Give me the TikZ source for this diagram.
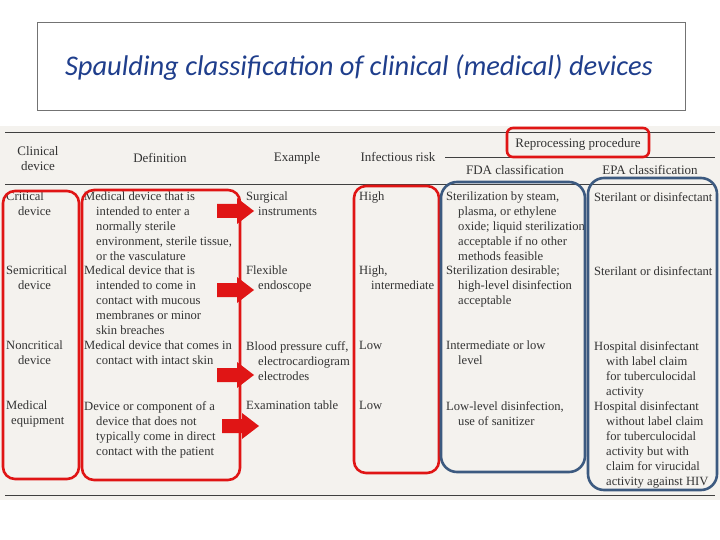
\documentclass[tikz,border=0pt]{standalone}
\usepackage{fontspec}
\setmainfont{Liberation Serif}
\newfontfamily\titlefont{Carlito}
\definecolor{titleblue}{HTML}{1F3E8C}
\definecolor{boxblue}{HTML}{3C5A80}
\definecolor{redb}{HTML}{E01515}
\definecolor{paper}{HTML}{F4F2EE}
\begin{document}
\begin{tikzpicture}[x=1pt,y=-1pt,
  txt/.style={anchor=north west,align=left,inner sep=0pt,font=\fontsize{12.6}{15}\selectfont,text=black!80},
  hd/.style={align=center,inner sep=0pt,font=\fontsize{13}{15}\selectfont,text=black!80},
  redbox/.style={draw=redb,line width=2.6pt,rounded corners=12pt},
  bluebox/.style={draw=boxblue,line width=2.6pt,rounded corners=16pt},
  arr/.style={fill=redb,draw=none},
  rule/.style={line width=0.9pt,black!75}]
\useasboundingbox (0,0) rectangle (720,540);
\fill[white] (0,0) rectangle (720,540);
\fill[paper] (0,126) rectangle (720,500);
\node[draw=black!55,line width=0.6pt,minimum width=648pt,minimum height=88pt,inner sep=0pt] (title) at (361,66) {};
\node[font=\titlefont\itshape\fontsize{28.5}{32}\selectfont,text=titleblue] (tt) at (359,68) {Spaulding classification of clinical (medical) devices};
% rules
\coordinate (r1a) at (5,132); \coordinate (r1b) at (715,132);
\draw[rule] (r1a) -- (r1b);
\coordinate (r2a) at (445,157); \coordinate (r2b) at (715,157);
\draw[rule] (r2a) -- (r2b);
\coordinate (r3a) at (5,184); \coordinate (r3b) at (715,184);
\draw[rule] (r3a) -- (r3b);
\coordinate (r4a) at (5,495); \coordinate (r4b) at (715,495);
\draw[rule] (r4a) -- (r4b);
% headers
\node[hd] (h1) at (38,159) {Clinical\\device};
\node[hd] (h2) at (160,158) {Definition};
\node[hd] (h3) at (297,158) {Example};
\node[hd] (h4) at (398,157) {Infectious risk};
\node[hd] (h5) at (578,144) {Reprocessing procedure};
\node[hd] (h6) at (515,170) {FDA classification};
\node[hd] (h7) at (650,170) {EPA classification};
% column 1
\node[txt] (c11) at (6,192) {Critical\\\hspace*{12pt}device};
\node[txt] (c12) at (6,266) {Semicritical\\\hspace*{12pt}device};
\node[txt] (c13) at (6,341) {Noncritical\\\hspace*{12pt}device};
\node[txt] (c14) at (6,401) {Medical\\\hspace*{5pt}equipment};
% column 2
\node[txt] (c21) at (84,192) {Medical device that is\\\hspace*{12pt}intended to enter a\\\hspace*{12pt}normally sterile\\\hspace*{12pt}environment, sterile tissue,\\\hspace*{12pt}or the vasculature};
\node[txt] (c22) at (84,266) {Medical device that is\\\hspace*{12pt}intended to come in\\\hspace*{12pt}contact with mucous\\\hspace*{12pt}membranes or minor\\\hspace*{12pt}skin breaches};
\node[txt] (c23) at (84,341) {Medical device that comes in\\\hspace*{12pt}contact with intact skin};
\node[txt] (c24) at (84,401) {Device or component of a\\\hspace*{12pt}device that does not\\\hspace*{12pt}typically come in direct\\\hspace*{12pt}contact with the patient};
% column 3
\node[txt] (c31) at (246,192) {Surgical\\\hspace*{12pt}instruments};
\node[txt] (c32) at (246,266) {Flexible\\\hspace*{12pt}endoscope};
\node[txt] (c33) at (246,341) {Blood pressure cuff,\\\hspace*{12pt}electrocardiogram\\\hspace*{12pt}electrodes};
\node[txt] (c34) at (246,401) {Examination table};
% column 4
\node[txt] (c41) at (359,192) {High};
\node[txt] (c42) at (359,266) {High,\\\hspace*{12pt}intermediate};
\node[txt] (c43) at (359,341) {Low};
\node[txt] (c44) at (359,401) {Low};
% column 5
\node[txt] (c51) at (446,192) {Sterilization by steam,\\\hspace*{12pt}plasma, or ethylene\\\hspace*{12pt}oxide; liquid sterilization\\\hspace*{12pt}acceptable if no other\\\hspace*{12pt}methods feasible};
\node[txt] (c52) at (446,266) {Sterilization desirable;\\\hspace*{12pt}high-level disinfection\\\hspace*{12pt}acceptable};
\node[txt] (c53) at (446,341) {Intermediate or low\\\hspace*{12pt}level};
\node[txt] (c54) at (446,401) {Low-level disinfection,\\\hspace*{12pt}use of sanitizer};
% column 6
\node[txt] (c61) at (594,192) {Sterilant or disinfectant};
\node[txt] (c62) at (594,266) {Sterilant or disinfectant};
\node[txt] (c63) at (594,341) {Hospital disinfectant\\\hspace*{12pt}with label claim\\\hspace*{12pt}for tuberculocidal\\\hspace*{12pt}activity};
\node[txt] (c64) at (594,401) {Hospital disinfectant\\\hspace*{12pt}without label claim\\\hspace*{12pt}for tuberculocidal\\\hspace*{12pt}activity but with\\\hspace*{12pt}claim for virucidal\\\hspace*{12pt}activity against HIV};
% boxes
\draw[redbox] (3,191) rectangle (79,479);
\draw[redbox] (82,190) rectangle (240,480);
\draw[redbox] (354,186) rectangle (439,473);
\draw[redbox,rounded corners=6pt] (507,128) rectangle (649,157);
\draw[bluebox] (441,182) rectangle (585,472);
\draw[bluebox] (588,178) rectangle (717,490);
% arrows
\foreach \n/\x/\y in {a1/217/211,a2/217/290,a3/217/375,a4/222/426}{
  \fill[arr] (\x,\y-7) -- ++(20,0) -- ++(0,-6) -- ++(17,13) -- ++(-17,13) -- ++(0,-6) -- ++(-20,0) -- cycle;
}
\end{tikzpicture}
\end{document}
